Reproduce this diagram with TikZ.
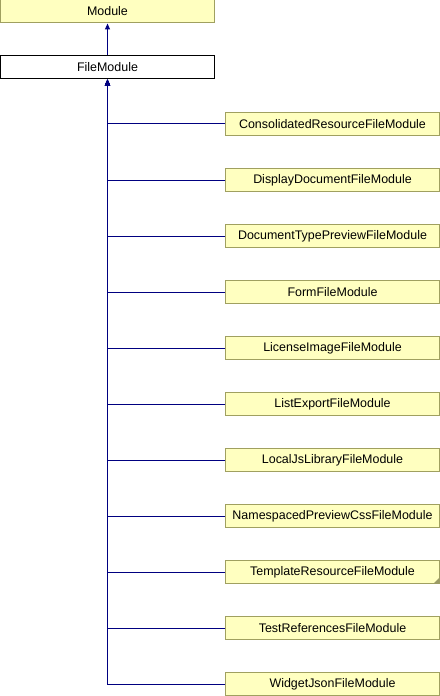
\documentclass[tikz,border=0pt]{standalone}
\usepackage{fontspec}
\setmainfont{Liberation Sans}
\usetikzlibrary{arrows.meta}
\definecolor{boxfill}{RGB}{255,255,192}
\definecolor{boxline}{RGB}{160,160,96}
\definecolor{edgecol}{RGB}{0,0,128}
\tikzset{
  cls/.style={draw=boxline, fill=boxfill, line width=1bp, minimum width=214bp, minimum height=23bp, inner sep=0pt, font=\fontsize{12.5}{14}\selectfont},
  cur/.style={cls, draw=black, fill=white},
  inh/.style={draw=edgecol, line width=1bp, -{Triangle[length=6bp,width=5bp]}}
}
\begin{document}
\begin{tikzpicture}[x=1bp,y=-1bp]
\useasboundingbox (0,0) rectangle (440,696);
\node[cls] (mod) at (107.5,11.5) {Module};
\node[cur] (fm) at (107.5,67.5) {FileModule};
\draw[inh] (fm.north) -- (mod.south);
\foreach \n/\t [count=\i from 0] in {c1/ConsolidatedResourceFileModule,c2/DisplayDocumentFileModule,c3/DocumentTypePreviewFileModule,c4/FormFileModule,c5/LicenseImageFileModule,c6/ListExportFileModule,c7/LocalJsLibraryFileModule,c8/NamespacedPreviewCssFileModule,c9/TemplateResourceFileModule,c10/TestReferencesFileModule,c11/WidgetJsonFileModule}{
  \node[cls] (\n) at (332.5,{124+56*\i}) {\t};
  \draw[inh] (\n.west) -| (fm.south);
}
\fill[boxline!80!gray] ([xshift=-0.5bp,yshift=0.5bp]c9.south east) -- ++(-6,0) -- ++(6,-6) -- cycle;
\end{tikzpicture}
\end{document}
